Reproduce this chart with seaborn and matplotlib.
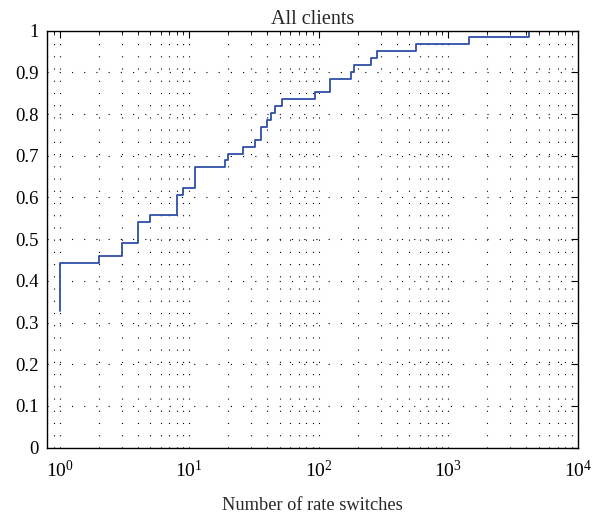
import matplotlib
matplotlib.use("Agg")
import matplotlib.pyplot as plt
import seaborn as sns
import numpy as np
import pandas as pd
from matplotlib.ticker import LogLocator, NullFormatter

switches = [1, 1, 2, 3, 4, 5, 8, 9, 11, 19, 20, 26, 32, 36, 39.5, 43, 46, 52,
            93, 122, 179, 187, 251, 281, 568, 1445, 4217]
cdf = [0.328, 0.443, 0.459, 0.492, 0.541, 0.557, 0.607, 0.623, 0.672, 0.689,
       0.705, 0.721, 0.738, 0.770, 0.787, 0.803, 0.820, 0.836, 0.852, 0.885,
       0.902, 0.918, 0.934, 0.951, 0.967, 0.984, 1.0]
y_ticks = [0, 0.1, 0.2, 0.3, 0.4, 0.5, 0.6, 0.7, 0.8, 0.9, 1]
y_labels = ["0", "0.1", "0.2", "0.3", "0.4", "0.5", "0.6", "0.7", "0.8", "0.9", "1"]

sns.set_style("white")
plt.rcParams['font.family'] = ['Liberation Serif', 'DejaVu Serif']
plt.rcParams['mathtext.fontset'] = 'custom'
plt.rcParams['mathtext.rm'] = 'Liberation Serif'
plt.rcParams['mathtext.it'] = 'Liberation Serif:italic'

df = pd.DataFrame({"x": switches, "y": cdf})

fig = plt.figure(figsize=(6.01, 5.14), dpi=100)
ax = fig.add_axes([0.0787, 0.129, 0.8825, 0.8113])

sns.lineplot(data=df, x="x", y="y", ax=ax, estimator=None, sort=False,
             drawstyle="steps-post", color="#2f4fa8", linewidth=1.3)

ax.set_xscale("log")
ax.set_xlim(0.8, 1e4)
ax.set_ylim(0, 1)
ax.xaxis.set_major_locator(LogLocator(base=10, numticks=10))
ax.xaxis.set_minor_locator(LogLocator(base=10, subs=np.arange(2, 10), numticks=20))
ax.xaxis.set_minor_formatter(NullFormatter())
ax.set_yticks(y_ticks)
ax.set_yticklabels(y_labels)

grid_style = dict(color="black", linestyle=(0, (1, 10)), linewidth=0.8)
ax.grid(True, which="major", axis="both", **grid_style)
ax.grid(True, which="minor", axis="x", **grid_style)

for s in ax.spines.values():
    s.set_visible(True)
    s.set_color("black")
    s.set_linewidth(1.0)

ax.tick_params(axis="both", which="both", direction="in", top=True, right=True,
               colors="black")
ax.tick_params(axis="y", labelsize=13.5, pad=6)
ax.tick_params(axis="x", labelsize=14, pad=9)
ax.tick_params(axis="both", which="major", length=5)
ax.tick_params(axis="x", which="minor", length=3)

ax.set_xlabel("Number of rate switches", fontsize=13.2, labelpad=11)
ax.set_ylabel("")
ax.set_title("All clients", fontsize=14.5, pad=4.5)

fig.savefig("out.png", dpi=100)
